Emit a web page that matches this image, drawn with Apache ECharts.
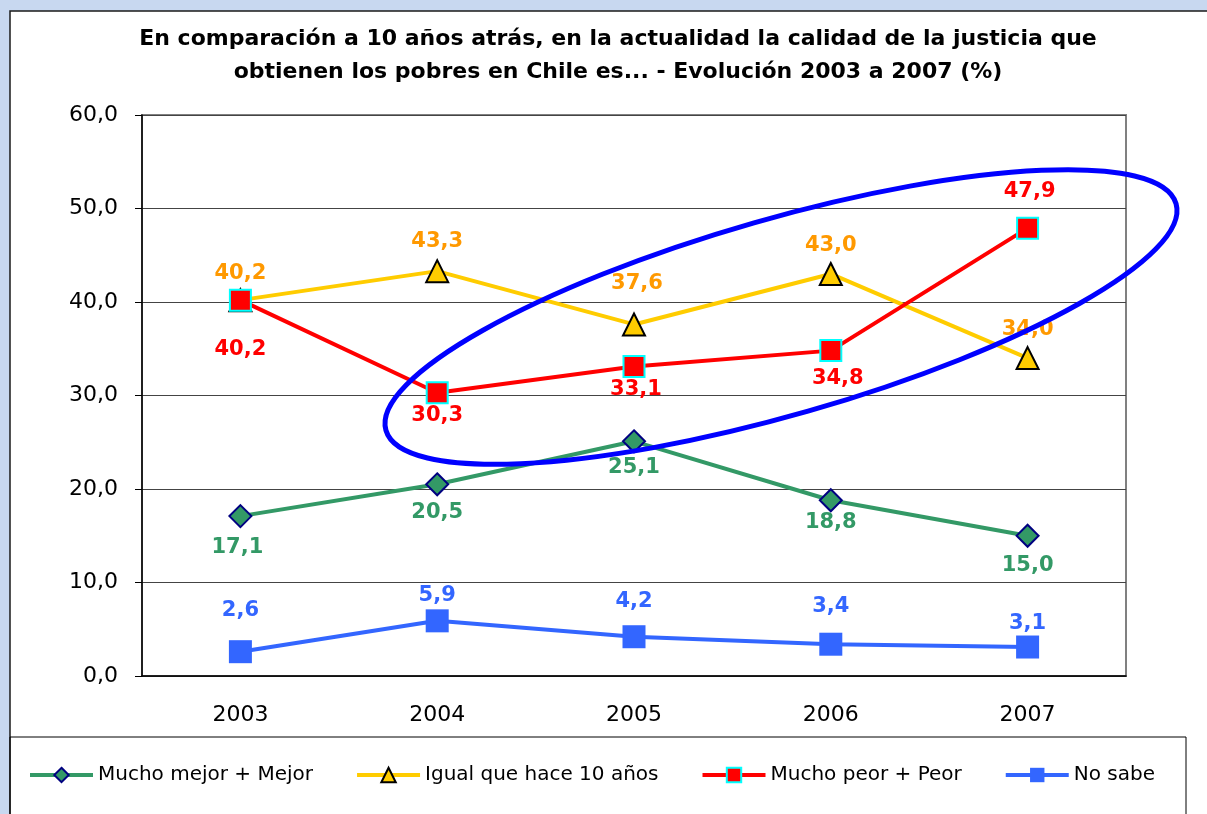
<!DOCTYPE html>
<html>
<head>
<meta charset="utf-8">
<title>Calidad de la justicia - Evolución 2003 a 2007</title>
<script src="https://cdn.jsdelivr.net/npm/echarts@6/dist/echarts.min.js"></script>
<style>
	html, body { margin: 0; padding: 0; }
	#main { width: 1207px; height: 814px; }
</style>
</head>
<body>
<div id="main"></div>
<script>
	// datos del grafico
	var anios = ['2003', '2004', '2005', '2006', '2007'];
	var muchoMejor = [17.1, 20.5, 25.1, 18.8, 15.0];
	var igual = [40.2, 43.3, 37.6, 43.0, 34.0];
	var muchoPeor = [40.2, 30.3, 33.1, 34.8, 47.9];
	var noSabe = [2.6, 5.9, 4.2, 3.4, 3.1];
	var nombres = ['Mucho mejor + Mejor', 'Igual que hace 10 años', 'Mucho peor + Peor', 'No sabe'];
	var ejeYMin = 0, ejeYMax = 60, ejeYPaso = 10;

	// corrimiento de cada etiqueta respecto a su punto (px)
	var offMejor = [[-3, 31], [0, 28], [0, 26], [0, 22], [0, 30]];
	var offIgual = [[0, -27], [0, -30], [3, -41], [0, -28], [0, -29]];
	var offPeor = [[0, 49], [0, 23], [2, 23], [7, 28], [2, -37]];
	var offNoSabe = [[0, -41], [0, -25], [0, -35], [0, -38], [0, -23]];

	var FUENTE = '"DejaVu Sans", Arial, sans-serif';

	var fmt = function(v){
		return Number(v).toFixed(1).replace('.', ',');
	}

	/**
	 * arma una serie de lineas con sus marcas y etiquetas
	 */
	var crearSerie = function(nombre, valores, offsets, o){
		var datos = [];
		for(var i = 0, j = valores.length; i < j; i++){
			datos.push({ value: valores[i], label: { offset: offsets[i] } });
		}
		return {
			name: nombre,
			type: 'line',
			data: datos,
			symbol: o.symbol,
			symbolSize: o.size,
			lineStyle: { color: o.linea, width: 4 },
			itemStyle: { color: o.relleno, borderColor: o.borde, borderWidth: o.bordeAncho },
			label: {
				show: true,
				position: 'inside',
				color: o.texto,
				fontSize: 21,
				fontWeight: 'bold',
				fontFamily: FUENTE,
				textBorderWidth: 0,
				textBorderColor: 'transparent',
				formatter: function(p){ return fmt(p.value); }
			},
			emphasis: { disabled: true }
		};
	}

	var series = [
		crearSerie(nombres[0], muchoMejor, offMejor, { symbol: 'diamond', size: 22, linea: '#339966', relleno: '#339966', borde: '#000080', bordeAncho: 2, texto: '#339966' }),
		crearSerie(nombres[1], igual, offIgual, { symbol: 'triangle', size: 22, linea: '#ffcc00', relleno: '#ffcc00', borde: '#000000', bordeAncho: 2, texto: '#ff9900' }),
		crearSerie(nombres[2], muchoPeor, offPeor, { symbol: 'rect', size: 21, linea: '#ff0000', relleno: '#ff0000', borde: '#00ffff', bordeAncho: 2, texto: '#ff0000' }),
		crearSerie(nombres[3], noSabe, offNoSabe, { symbol: 'rect', size: 23, linea: '#3366ff', relleno: '#3366ff', borde: '#3366ff', bordeAncho: 0, texto: '#3366ff' })
	];

	var option = {
		animation: false,
		backgroundColor: '#c8d8f0',
		textStyle: { fontFamily: FUENTE },
		graphic: [
			// marco blanco del grafico
			{ type: 'rect', z: -10, shape: { x: 10, y: 11, width: 1220, height: 830 },
			  style: { fill: '#ffffff', stroke: '#1a1a1a', lineWidth: 1.5 } },
			// caja de la leyenda
			{ type: 'rect', z: 1, shape: { x: 10, y: 737, width: 1176, height: 100 },
			  style: { fill: 'none', stroke: '#000000', lineWidth: 1 } },
			// titulo
			{ type: 'text', z: 5, x: 618, y: 23,
			  style: {
				text: 'En comparación a 10 años atrás, en la actualidad la calidad de la justicia que\nobtienen los pobres en Chile es... - Evolución 2003 a 2007 (%)',
				align: 'center', verticalAlign: 'top', lineHeight: 33,
				font: 'bold 22px ' + FUENTE, fill: '#000000'
			  } },
			// elipse azul que marca la tendencia
			{ type: 'ellipse', z: 100, x: 781, y: 317, rotation: 16 * Math.PI / 180,
			  shape: { cx: 0, cy: 0, rx: 411, ry: 98 },
			  style: { fill: 'none', stroke: '#0000ff', lineWidth: 5 } }
		],
		grid: {
			left: 142, top: 115, right: 81, bottom: 138,
			show: true, backgroundColor: '#ffffff', borderColor: '#808080', borderWidth: 2
		},
		legend: {
			data: nombres,
			left: 23, top: 760,
			itemWidth: 63, itemHeight: 18, itemGap: 42,
			lineStyle: { width: 4 },
			textStyle: { fontSize: 20, color: '#000000', fontFamily: FUENTE }
		},
		xAxis: {
			type: 'category',
			data: anios,
			axisLine: { lineStyle: { color: '#000000', width: 1.5 } },
			axisTick: { length: 8, lineStyle: { color: '#000000' } },
			axisLabel: { fontSize: 22, color: '#000000', margin: 28, fontFamily: FUENTE }
		},
		yAxis: {
			type: 'value',
			min: ejeYMin, max: ejeYMax, interval: ejeYPaso,
			axisLine: { show: true, lineStyle: { color: '#000000', width: 1.5 } },
			axisTick: { show: true, length: 7, lineStyle: { color: '#000000' } },
			splitLine: { lineStyle: { color: '#444444', width: 1 } },
			axisLabel: { fontSize: 22, color: '#000000', margin: 24, fontFamily: FUENTE,
				formatter: function(v){ return fmt(v); } }
		},
		series: series
	};

	var myChart = echarts.init(document.getElementById('main'));
	myChart.setOption(option);
</script>
</body>
</html>
